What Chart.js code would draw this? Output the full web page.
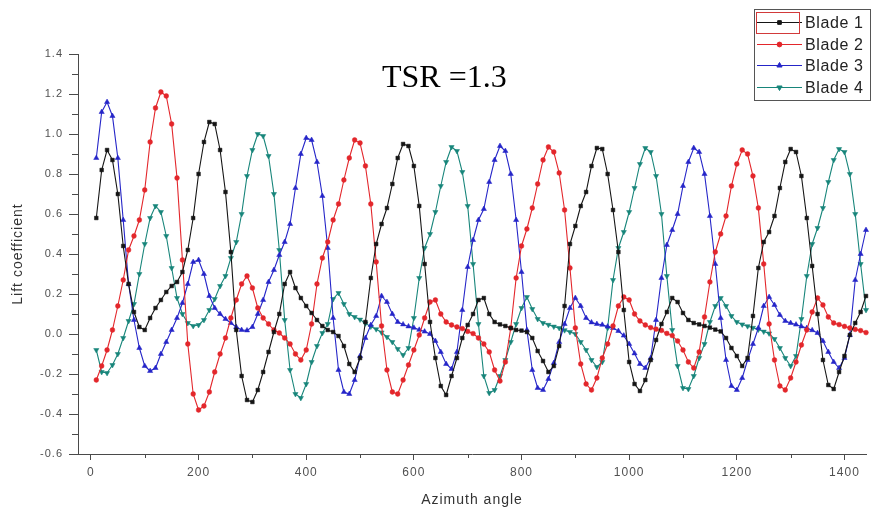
<!DOCTYPE html>
<html>
<head>
<meta charset="utf-8">
<title>Lift coefficient, TSR 1.3</title>
<script src="https://cdn.jsdelivr.net/npm/chart.js@4.4.1/dist/chart.umd.min.js"></script>
<style>
  html, body { margin: 0; padding: 0; background: #fff; }
  #wrap { width: 872px; height: 512px; }
</style>
</head>
<body>
<div id="wrap"><canvas id="chartCanvas" width="872" height="512"></canvas></div>
<script>
// azimuth angle of each sample (deg)
const angles = [
  10, 20, 30, 40, 50, 60, 70, 80, 90, 100,
  110, 120, 130, 140, 150, 160, 170, 180, 190, 200,
  210, 220, 230, 240, 250, 260, 270, 280, 290, 300,
  310, 320, 330, 340, 350, 360, 370, 380, 390, 400,
  410, 420, 430, 440, 450, 460, 470, 480, 490, 500,
  510, 520, 530, 540, 550, 560, 570, 580, 590, 600,
  610, 620, 630, 640, 650, 660, 670, 680, 690, 700,
  710, 720, 730, 740, 750, 760, 770, 780, 790, 800,
  810, 820, 830, 840, 850, 860, 870, 880, 890, 900,
  910, 920, 930, 940, 950, 960, 970, 980, 990, 1000,
  1010, 1020, 1030, 1040, 1050, 1060, 1070, 1080, 1090, 1100,
  1110, 1120, 1130, 1140, 1150, 1160, 1170, 1180, 1190, 1200,
  1210, 1220, 1230, 1240, 1250, 1260, 1270, 1280, 1290, 1300,
  1310, 1320, 1330, 1340, 1350, 1360, 1370, 1380, 1390, 1400,
  1410, 1420, 1430, 1440
];

const blade1 = [
  0.58, 0.82, 0.92, 0.87, 0.70, 0.44, 0.25, 0.11, 0.035, 0.02,
  0.08, 0.13, 0.17, 0.21, 0.24, 0.26, 0.31, 0.42, 0.58, 0.80,
  0.96, 1.06, 1.05, 0.92, 0.71, 0.41, 0.02, -0.21, -0.33, -0.34,
  -0.28, -0.19, -0.09, 0.01, 0.10, 0.25, 0.31, 0.23, 0.18, 0.14,
  0.105, 0.07, 0.04, 0.02, 0.01, -0.01, -0.06, -0.15, -0.19, -0.12,
  0.06, 0.28, 0.45, 0.55, 0.63, 0.75, 0.88, 0.95, 0.94, 0.84,
  0.64, 0.35, 0.06, -0.12, -0.26, -0.305, -0.21, -0.12, -0.02, 0.045,
  0.10, 0.17, 0.18, 0.10, 0.06, 0.048, 0.04, 0.03, 0.02, 0.017,
  0.01, -0.02, -0.085, -0.135, -0.19, -0.16, -0.06, 0.14, 0.45, 0.54,
  0.64, 0.71, 0.84, 0.93, 0.925, 0.80, 0.62, 0.41, 0.12, -0.14,
  -0.25, -0.285, -0.23, -0.13, -0.03, 0.05, 0.11, 0.18, 0.16, 0.105,
  0.07, 0.055, 0.048, 0.04, 0.032, 0.022, 0.013, -0.02, -0.07, -0.11,
  -0.16, -0.12, 0.09, 0.33, 0.46, 0.51, 0.59, 0.73, 0.86, 0.925,
  0.91, 0.79, 0.58, 0.34, 0.10, -0.13, -0.255, -0.275, -0.19, -0.11,
  -0.005, 0.055, 0.11, 0.19
];

const blade2 = [
  -0.23, -0.16, -0.08, 0.02, 0.14, 0.27, 0.42, 0.49, 0.57, 0.72,
  0.96, 1.13, 1.21, 1.19, 1.05, 0.78, 0.37, -0.05, -0.30, -0.38,
  -0.36, -0.29, -0.19, -0.10, -0.02, 0.08, 0.17, 0.25, 0.29, 0.23,
  0.13, 0.08, 0.05, 0.02, 0.005, -0.02, -0.05, -0.10, -0.13, -0.08,
  0.05, 0.25, 0.38, 0.46, 0.57, 0.65, 0.77, 0.88, 0.97, 0.955,
  0.84, 0.65, 0.36, 0.04, -0.18, -0.29, -0.30, -0.23, -0.155, -0.08,
  -0.005, 0.08, 0.16, 0.17, 0.10, 0.06, 0.045, 0.035, 0.027, 0.013,
  0.002, -0.02, -0.05, -0.09, -0.18, -0.235, -0.14, 0.03, 0.28, 0.44,
  0.525, 0.63, 0.75, 0.87, 0.935, 0.91, 0.805, 0.62, 0.33, 0.03,
  -0.15, -0.25, -0.28, -0.22, -0.12, -0.05, 0.04, 0.14, 0.185, 0.17,
  0.10, 0.065, 0.045, 0.032, 0.024, 0.018, 0.003, -0.008, -0.035, -0.08,
  -0.14, -0.17, -0.09, 0.085, 0.26, 0.41, 0.50, 0.59, 0.74, 0.85,
  0.92, 0.90, 0.79, 0.63, 0.35, 0.05, -0.13, -0.26, -0.28, -0.22,
  -0.14, -0.055, 0.02, 0.11, 0.18, 0.145, 0.085, 0.055, 0.047, 0.038,
  0.03, 0.023, 0.017, 0.007
];

const blade3 = [
  0.88, 1.11, 1.16, 1.09, 0.88, 0.57, 0.25, 0.07, -0.07, -0.16,
  -0.185, -0.17, -0.10, -0.04, 0.02, 0.08, 0.155, 0.25, 0.36, 0.37,
  0.30, 0.19, 0.13, 0.10, 0.075, 0.055, 0.035, 0.02, 0.018, 0.035,
  0.10, 0.17, 0.26, 0.32, 0.395, 0.46, 0.55, 0.73, 0.90, 0.98,
  0.97, 0.86, 0.69, 0.43, 0.08, -0.18, -0.29, -0.30, -0.23, -0.11,
  -0.02, 0.045, 0.09, 0.19, 0.16, 0.10, 0.06, 0.048, 0.038, 0.031,
  0.021, 0.012, 0.0, -0.035, -0.09, -0.15, -0.175, -0.09, 0.12, 0.335,
  0.47, 0.57, 0.625, 0.76, 0.87, 0.94, 0.915, 0.80, 0.57, 0.31,
  0.02, -0.18, -0.27, -0.28, -0.225, -0.145, -0.04, 0.05, 0.13, 0.18,
  0.14, 0.08, 0.058, 0.05, 0.046, 0.037, 0.03, 0.015, -0.008, -0.05,
  -0.097, -0.15, -0.17, -0.12, 0.07, 0.28, 0.445, 0.52, 0.60, 0.74,
  0.86, 0.93, 0.91, 0.80, 0.59, 0.35, 0.08, -0.13, -0.26, -0.28,
  -0.22, -0.13, -0.05, 0.03, 0.14, 0.185, 0.145, 0.095, 0.065, 0.055,
  0.047, 0.038, 0.03, 0.019, 0.005, -0.035, -0.09, -0.14, -0.17, -0.12,
  -0.005, 0.27, 0.40, 0.52
];

const blade4 = [
  -0.08, -0.19, -0.195, -0.155, -0.10, -0.02, 0.065, 0.15, 0.30, 0.45,
  0.58, 0.64, 0.61, 0.49, 0.33, 0.18, 0.10, 0.055, 0.04, 0.045,
  0.07, 0.12, 0.175, 0.24, 0.29, 0.38, 0.46, 0.60, 0.79, 0.92,
  1.00, 0.99, 0.89, 0.70, 0.42, 0.07, -0.18, -0.30, -0.32, -0.25,
  -0.14, -0.06, 0.005, 0.05, 0.175, 0.205, 0.15, 0.10, 0.085, 0.072,
  0.053, 0.037, 0.024, 0.008, -0.015, -0.04, -0.075, -0.105, -0.07, 0.08,
  0.28, 0.43, 0.50, 0.61, 0.74, 0.86, 0.935, 0.915, 0.81, 0.64,
  0.35, 0.05, -0.21, -0.295, -0.28, -0.21, -0.13, -0.04, 0.05, 0.13,
  0.185, 0.125, 0.075, 0.055, 0.046, 0.037, 0.03, 0.019, 0.01, 0.0,
  -0.04, -0.08, -0.13, -0.165, -0.14, 0.03, 0.27, 0.43, 0.51, 0.61,
  0.73, 0.85, 0.93, 0.91, 0.79, 0.60, 0.29, 0.02, -0.16, -0.27,
  -0.275, -0.21, -0.12, -0.05, 0.06, 0.14, 0.18, 0.14, 0.09, 0.06,
  0.048, 0.039, 0.031, 0.022, 0.012, 0.003, -0.025, -0.07, -0.12, -0.16,
  -0.11, 0.075, 0.29, 0.45, 0.53, 0.63, 0.76, 0.87, 0.925, 0.91,
  0.80, 0.60, 0.35, 0.12
];

const bladeNames = ['Blade 1', 'Blade 2', 'Blade 3', 'Blade 4'];
const bladeColors = ['#151515', '#e3262b', '#2525c8', '#17857a'];

const xTicks = [0, 200, 400, 600, 800, 1000, 1200, 1400];
const xMinorTicks = [100, 300, 500, 700, 900, 1100, 1300];
const yTicks = [-0.6, -0.4, -0.2, 0.0, 0.2, 0.4, 0.6, 0.8, 1.0, 1.2, 1.4];
const yMinorTicks = [-0.5, -0.3, -0.1, 0.1, 0.3, 0.5, 0.7, 0.9, 1.1, 1.3];

const AXIS_COLOR = '#4a4a4a';
const LABEL_COLOR = '#505050';

function toPoints(values) {
  return values.map((v, i) => ({ x: angles[i], y: v }));
}

function makeDataset(i, values, style, rotation, radius) {
  return {
    label: bladeNames[i],
    data: toPoints(values),
    borderColor: bladeColors[i],
    backgroundColor: bladeColors[i],
    pointBackgroundColor: bladeColors[i],
    pointBorderColor: bladeColors[i],
    pointStyle: style,
    pointRotation: rotation,
    pointRadius: radius,
    pointBorderWidth: 0.5,
    borderWidth: 1.1,
    tension: 0,
    clip: false
  };
}

// tick labels in Origin look a little spaced out
const spacing = {
  id: 'spacing',
  beforeDraw(chart) { chart.ctx.letterSpacing = '1px'; },
  beforeDatasetsDraw(chart) { chart.ctx.letterSpacing = '0px'; }
};

// minor ticks, legend box and the TSR note
const extras = {
  id: 'extras',
  afterDraw(chart) {
    const ctx = chart.ctx;
    const xs = chart.scales.x;
    const ys = chart.scales.y;
    const area = chart.chartArea;
    ctx.save();
    ctx.letterSpacing = '0px';
    ctx.strokeStyle = AXIS_COLOR;
    ctx.lineWidth = 1;
    ctx.beginPath();
    yMinorTicks.forEach(v => {
      const y = Math.round(ys.getPixelForValue(v)) + 0.5;
      ctx.moveTo(area.left - 6, y);
      ctx.lineTo(area.left, y);
    });
    xMinorTicks.forEach(v => {
      const x = Math.round(xs.getPixelForValue(v)) + 0.5;
      ctx.moveTo(x, area.bottom);
      ctx.lineTo(x, area.bottom + 4);
    });
    ctx.stroke();

    // TSR label
    ctx.fillStyle = '#000';
    ctx.font = '32px "Liberation Serif", "Times New Roman", serif';
    ctx.textBaseline = 'alphabetic';
    ctx.textAlign = 'left';
    ctx.fillText('TSR =1.3', 382, 87);

    // legend
    ctx.strokeStyle = '#555';
    ctx.strokeRect(754.5, 9.5, 116, 91);
    ctx.font = '16px "Liberation Sans", Arial, sans-serif';
    ctx.textBaseline = 'middle';
    ctx.letterSpacing = '0.6px';
    chart.data.datasets.forEach((ds, i) => {
      const y = Math.round(22 + i * 21.7) + 0.5;
      ctx.strokeStyle = ds.borderColor;
      ctx.beginPath();
      ctx.moveTo(757, y);
      ctx.lineTo(802, y);
      ctx.stroke();
      ctx.fillStyle = ds.borderColor;
      Chart.helpers.drawPoint(ctx, {
        pointStyle: ds.pointStyle,
        rotation: ds.pointRotation,
        radius: ds.pointRadius,
        borderWidth: 0.5
      }, 779.5, y);
      ctx.fillStyle = '#222';
      ctx.fillText(ds.label, 805, y + 1);
    });
    // selection frame around the first sample
    ctx.strokeStyle = '#d23a3a';
    ctx.strokeRect(756.5, 12.5, 43, 21);
    ctx.restore();
  }
};

document.addEventListener('DOMContentLoaded', () => {
  const ctx = document.getElementById('chartCanvas').getContext('2d');
  new Chart(ctx, {
    type: 'line',
    data: {
      datasets: [
        makeDataset(0, blade1, 'rect', 0, 2.6),
        makeDataset(1, blade2, 'circle', 0, 2.4),
        makeDataset(2, blade3, 'triangle', 0, 3),
        makeDataset(3, blade4, 'triangle', 180, 3)
      ]
    },
    options: {
      responsive: false,
      animation: false,
      devicePixelRatio: 1,
      layout: { padding: { top: 54, right: 6, left: 0, bottom: 0 } },
      plugins: { legend: { display: false }, tooltip: { enabled: false } },
      scales: {
        x: {
          type: 'linear',
          min: -24,
          max: 1440,
          afterFit: s => { s.height = 58; },
          afterBuildTicks: s => { s.ticks = xTicks.map(v => ({ value: v })); },
          grid: { display: true, drawOnChartArea: false, drawTicks: true, tickLength: 6, color: AXIS_COLOR },
          border: { display: true, color: AXIS_COLOR, width: 1 },
          ticks: {
            padding: 5,
            color: LABEL_COLOR,
            maxRotation: 0,
            font: { family: 'Liberation Sans', size: 12 },
            callback: v => String(v)
          },
          title: {
            display: true,
            text: 'Azimuth angle',
            color: '#333',
            font: { family: 'Liberation Sans', size: 14 },
            padding: { top: 0, bottom: 3 }
          }
        },
        y: {
          type: 'linear',
          min: -0.6,
          max: 1.4,
          afterFit: s => { s.width = 78; },
          afterBuildTicks: s => { s.ticks = yTicks.map(v => ({ value: v })); },
          grid: { display: true, drawOnChartArea: false, drawTicks: true, tickLength: 9, color: AXIS_COLOR },
          border: { display: true, color: AXIS_COLOR, width: 1 },
          ticks: {
            padding: 6,
            color: LABEL_COLOR,
            font: { family: 'Liberation Sans', size: 11 },
            callback: v => v.toFixed(1)
          },
          title: {
            display: true,
            text: 'Lift coefficient',
            color: '#333',
            font: { family: 'Liberation Sans', size: 14 },
            padding: { top: 10, bottom: 0 }
          }
        }
      }
    },
    plugins: [spacing, extras]
  });
});
</script>
</body>
</html>
